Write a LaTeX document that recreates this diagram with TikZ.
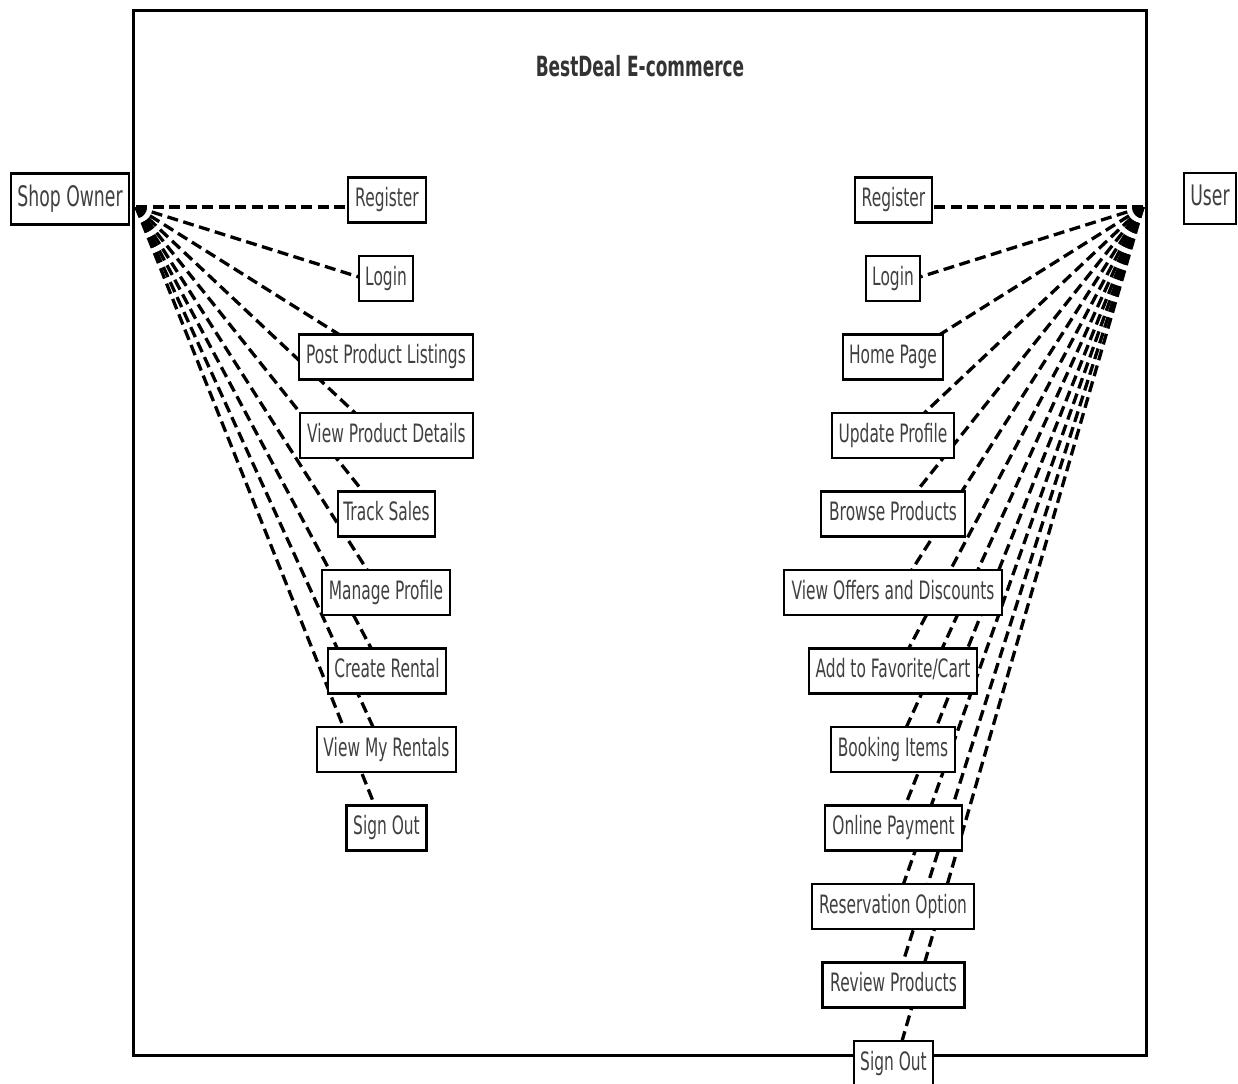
\documentclass[tikz,border=0pt]{standalone}
\usepackage{fontspec}
\setmainfont{DejaVu Sans}[FakeStretch=0.61]
\usetikzlibrary{calc}
\begin{document}
\begin{tikzpicture}[x=1pt,y=-1pt,
  uc/.style={draw=black, line width=2.7pt, fill=white,
    font=\fontsize{25.3}{29}\selectfont, text=black!75,
    minimum height=45pt, inner xsep=2pt, inner ysep=0pt,
    text height=19.2pt, text depth=6pt},
  actor/.style={draw=black, line width=2.7pt, fill=white,
    font=\fontsize{28.3}{32}\selectfont, text=black!75,
    minimum height=51pt, inner xsep=2pt, inner ysep=0pt,
    text height=21.5pt, text depth=6.7pt},
  conn/.style={line width=3.3pt, dash pattern=on 11pt off 5.5pt},
  boundary/.style={line width=3pt}]
\useasboundingbox (0,0) rectangle (1238,1083);
\clip (0,0) rectangle (1238,1083);
\fill[white] (0,0) rectangle (1238,1083);

% system boundary and title
\draw[boundary] (133,11) rectangle (1146,1055);
\node[font=\bfseries\fontsize{27.8}{32}\selectfont, text=black!80] (title) at (640,66) {BestDeal E-commerce};

% actor anchor points
\coordinate (oL) at (136,207);
\coordinate (oR) at (1143,207);

% left use case positions
\coordinate (pl1) at (387,200);
\coordinate (pl2) at (386,278.5);
\coordinate (pl3) at (386,357);
\coordinate (pl4) at (386.5,435.5);
\coordinate (pl5) at (386.5,514);
\coordinate (pl6) at (386,592.5);
\coordinate (pl7) at (387,671);
\coordinate (pl8) at (386.5,749.5);
\coordinate (pl9) at (386.5,828);

% right use case positions
\coordinate (pr1) at (893.5,200);
\coordinate (pr2) at (893,278.5);
\coordinate (pr3) at (893,357);
\coordinate (pr4) at (893,435.5);
\coordinate (pr5) at (893,514);
\coordinate (pr6) at (893,592.5);
\coordinate (pr7) at (893,671);
\coordinate (pr8) at (893,749.5);
\coordinate (pr9) at (893.5,828);
\coordinate (pr10) at (893,906.5);
\coordinate (pr11) at (893.5,985);
\coordinate (pr12) at (893.5,1063.5);

% connectors (drawn below the boxes)
\foreach \i in {1,...,9} {
  \draw[conn] (oL) -- ($(pl\i)+(0,7)$);
}
\foreach \i in {1,...,12} {
  \draw[conn] (oR) -- ($(pr\i)+(0,7)$);
}

% actors
\node[actor, minimum width=118pt] (owner) at (70,199) {Shop Owner};
\node[actor, minimum width=52pt] (user) at (1210,198.5) {User};

% left use cases
\node[uc, minimum width=78pt]  (l1) at (pl1) {Register};
\node[uc, minimum width=54pt]  (l2) at (pl2) {Login};
\node[uc, minimum width=174pt] (l3) at (pl3) {Post Product Listings};
\node[uc, minimum width=173pt] (l4) at (pl4) {View Product Details};
\node[uc, minimum width=97pt]  (l5) at (pl5) {Track Sales};
\node[uc, minimum width=128pt] (l6) at (pl6) {Manage Profile};
\node[uc, minimum width=118pt] (l7) at (pl7) {Create Rental};
\node[uc, minimum width=139pt] (l8) at (pl8) {View My Rentals};
\node[uc, minimum width=80pt]  (l9) at (pl9) {Sign Out};

% right use cases
\node[uc, minimum width=77pt]  (r1) at (pr1) {Register};
\node[uc, minimum width=54pt]  (r2) at (pr2) {Login};
\node[uc, minimum width=100pt] (r3) at (pr3) {Home Page};
\node[uc, minimum width=122pt] (r4) at (pr4) {Update Profile};
\node[uc, minimum width=144pt] (r5) at (pr5) {Browse Products};
\node[uc, minimum width=218pt] (r6) at (pr6) {View Offers and Discounts};
\node[uc, minimum width=168pt] (r7) at (pr7) {Add to Favorite/Cart};
\node[uc, minimum width=124pt] (r8) at (pr8) {Booking Items};
\node[uc, minimum width=137pt] (r9) at (pr9) {Online Payment};
\node[uc, minimum width=162pt] (r10) at (pr10) {Reservation Option};
\node[uc, minimum width=142pt] (r11) at (pr11) {Review Products};
\node[uc, minimum width=79pt]  (r12) at (pr12) {Sign Out};
\end{tikzpicture}
\end{document}
